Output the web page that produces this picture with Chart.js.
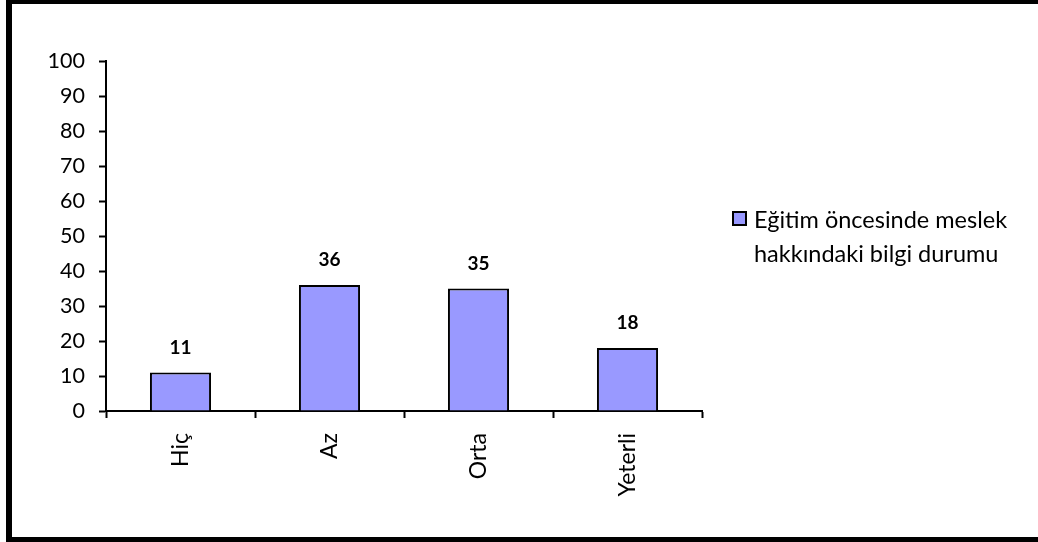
<!DOCTYPE html>
<html>
<head>
<meta charset="utf-8">
<script src="https://cdn.jsdelivr.net/npm/chart.js@4/dist/chart.umd.min.js"></script>
<style>
    html, body { margin: 0; padding: 0; background: #fff; }
    #wrap { position: relative; width: 1038px; height: 542px; overflow: hidden; }
    #frame {
        position: absolute; left: 6px; top: 0; width: 1050px; height: 542px;
        box-sizing: border-box; border-style: solid; border-color: #000;
        border-width: 4px 0 5px 6px; pointer-events: none;
    }
</style>
</head>
<body>
<div id="wrap">
    <canvas id="bilgiChart" width="1038" height="542"></canvas>
    <div id="frame"></div>
</div>
<script>
// Chart data
const categories = ['Hiç', 'Az', 'Orta', 'Yeterli'];
const values = [11, 36, 35, 18];
const seriesLabel = ['Eğitim öncesinde meslek', 'hakkındaki bilgi durumu'];
const yTicks = [0, 10, 20, 30, 40, 50, 60, 70, 80, 90, 100];

const fontFamily = 'Lato, "Open Sans", sans-serif';
const barFill = '#9999FF';

// Bold value above every bar
const valueLabels = {
    id: 'valueLabels',
    afterDatasetsDraw(chart) {
        const ctx = chart.ctx;
        const meta = chart.getDatasetMeta(0);
        ctx.save();
        ctx.fillStyle = '#000';
        ctx.font = 'bold 19px ' + fontFamily;
        ctx.textAlign = 'center';
        ctx.textBaseline = 'middle';
        meta.data.forEach((bar, i) => {
            ctx.fillText(String(values[i]), bar.x, bar.y - 25);
        });
        ctx.restore();
    }
};

// Legend box on the right, label split over two lines
const sideLegend = {
    id: 'sideLegend',
    afterDraw(chart) {
        const ctx = chart.ctx;
        const x = 733, y = 212;
        ctx.save();
        ctx.fillStyle = barFill;
        ctx.fillRect(x, y, 13, 13);
        ctx.strokeStyle = '#000';
        ctx.lineWidth = 2;
        ctx.strokeRect(x, y, 13, 13);
        ctx.fillStyle = '#000';
        ctx.font = '23.5px ' + fontFamily;
        ctx.textAlign = 'left';
        ctx.textBaseline = 'alphabetic';
        seriesLabel.forEach((line, i) => {
            ctx.fillText(line, 754, 228 + i * 34);
        });
        ctx.restore();
    }
};

const ctx = document.getElementById('bilgiChart').getContext('2d');
new Chart(ctx, {
    type: 'bar',
    data: {
        labels: categories,
        datasets: [{
            label: seriesLabel.join(' '),
            data: values,
            backgroundColor: barFill,
            borderColor: '#000',
            borderWidth: 2,
            barPercentage: 0.41,
            categoryPercentage: 1
        }]
    },
    options: {
        responsive: false,
        animation: false,
        layout: {
            padding: { left: 46, right: 336, top: 61, bottom: 31 }
        },
        plugins: {
            legend: { display: false },
            tooltip: { enabled: false }
        },
        scales: {
            x: {
                afterFit: scale => { scale.height = 100; },
                grid: {
                    offset: true,
                    drawOnChartArea: false,
                    drawTicks: true,
                    tickLength: 7,
                    tickWidth: 2,
                    color: '#000'
                },
                border: { color: '#000', width: 2 },
                ticks: {
                    color: '#000',
                    font: { family: fontFamily, size: 23 },
                    minRotation: 90,
                    maxRotation: 90,
                    padding: 15
                }
            },
            y: {
                min: 0,
                max: 100,
                afterFit: scale => { scale.width = 60; },
                afterBuildTicks: scale => {
                    scale.ticks = yTicks.map(v => ({ value: v }));
                },
                grid: {
                    drawOnChartArea: false,
                    drawTicks: true,
                    tickLength: 7,
                    tickWidth: 2,
                    color: '#000'
                },
                border: { color: '#000', width: 2 },
                ticks: {
                    color: '#000',
                    font: { family: fontFamily, size: 21.5 },
                    padding: 14
                }
            }
        }
    },
    plugins: [valueLabels, sideLegend]
});
</script>
</body>
</html>
